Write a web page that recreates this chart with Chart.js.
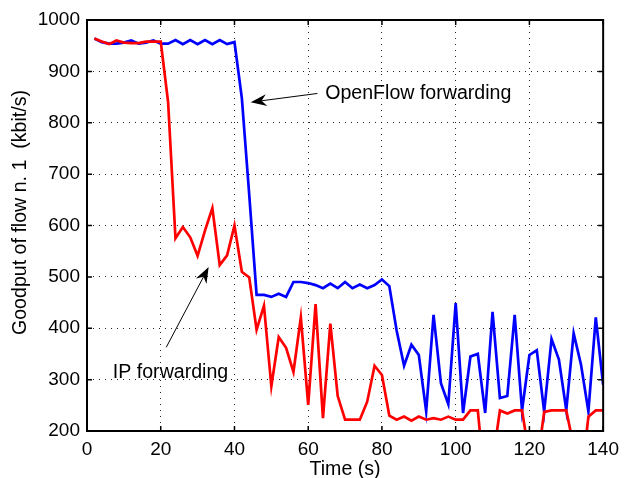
<!DOCTYPE html>
<html>
<head>
<meta charset="utf-8">
<script src="https://cdn.jsdelivr.net/npm/chart.js@4/dist/chart.umd.min.js"></script>
<style>
html,body{margin:0;padding:0;background:#fff;}
#wrap{width:626px;height:478px;position:relative;}
</style>
</head>
<body>
<div id="wrap"><canvas id="c"></canvas></div>
<script>
const times = [2,4,6,8,10,12,14,16,18,20,22,24,26,28,30,32,34,36,38,40,
  42,44,46,48,50,52,54,56,58,60,62,64,66,68,70,72,74,76,78,80,
  82,84,86,88,90,92,94,96,98,100,102,104,106,108,110,112,114,116,118,120,
  122,124,126,128,130,132,134,136,138,140];

const openflowGoodput = [964,957,954,954,956,960,954,956,960,954,954,961,953,961,953,961,953,961,953,957,
  848,660,465,465,461,467,461,490,490,488,484,478,487,478,490,478,485,478,484,495,
  482,395,327,368,348,238,426,293,252,449,235,345,350,235,432,264,268,426,240,348,
  357,238,379,339,241,390,329,238,421,290];

const ipGoodput = [964,958,953,960,956,955,955,958,958,958,840,575,597,577,541,590,634,523,542,600,
  510,499,397,444,287,383,362,315,421,251,447,225,409,268,222,222,222,257,327,309,
  230,222,228,220,228,222,225,222,228,222,222,240,240,90,140,240,234,240,240,150,
  130,237,240,240,240,170,100,228,240,240];

const xTicks = [0,20,40,60,80,100,120,140];
const yTicks = [200,300,400,500,600,700,800,900,1000];

const xTitle = "Time (s)";
const yTitle = "Goodput of flow n. 1  (kbit/s)";
const labelOpenFlow = "OpenFlow forwarding";
const labelIP = "IP forwarding";
// annotation anchors in data coordinates [time, goodput]
const ofText = [64.6, 847];
const ofArrow = [[62.5, 857], [44.4, 840]];
const ipText = [7.0, 304];
const ipArrow = [[21.5, 363], [33.0, 519]];

const FONT = "'Liberation Sans', Arial, Helvetica, sans-serif";

function drawArrow(ctx, x1, y1, x2, y2) {
  const ang = Math.atan2(y2 - y1, x2 - x1);
  const L = 16, W = 6, N = 11;
  ctx.save();
  ctx.strokeStyle = '#000';
  ctx.fillStyle = '#000';
  ctx.lineWidth = 1;
  ctx.beginPath();
  ctx.moveTo(x1, y1);
  ctx.lineTo(x2 - Math.cos(ang) * N, y2 - Math.sin(ang) * N);
  ctx.stroke();
  const c = Math.cos(ang), s = Math.sin(ang);
  const px = (d, w) => [x2 - c * d - s * w, y2 - s * d + c * w];
  ctx.beginPath();
  ctx.moveTo(x2, y2);
  let p = px(L, W); ctx.lineTo(p[0], p[1]);
  p = px(N, 0); ctx.lineTo(p[0], p[1]);
  p = px(L, -W); ctx.lineTo(p[0], p[1]);
  ctx.closePath();
  ctx.fill();
  ctx.restore();
}

const framePlugin = {
  id: 'frame',
  afterDraw(chart) {
    const {ctx, chartArea: a, scales: {x, y}} = chart;
    ctx.save();
    ctx.strokeStyle = '#000';
    ctx.lineWidth = 2;
    ctx.strokeRect(a.left, a.top, a.right - a.left, a.bottom - a.top);
    ctx.lineWidth = 1.5;
    const tl = 5;
    ctx.beginPath();
    xTicks.forEach(v => {
      const px = x.getPixelForValue(v);
      ctx.moveTo(px, a.bottom); ctx.lineTo(px, a.bottom - tl);
      ctx.moveTo(px, a.top); ctx.lineTo(px, a.top + tl);
    });
    yTicks.forEach(v => {
      const py = y.getPixelForValue(v);
      ctx.moveTo(a.left, py); ctx.lineTo(a.left + tl, py);
      ctx.moveTo(a.right, py); ctx.lineTo(a.right - tl, py);
    });
    ctx.stroke();

    ctx.fillStyle = '#000';
    ctx.font = '19.6px ' + FONT;

    // y axis title
    ctx.save();
    ctx.translate(21, (a.top + a.bottom) / 2 - 13);
    ctx.rotate(-Math.PI / 2);
    ctx.textAlign = 'center';
    ctx.textBaseline = 'middle';
    ctx.fillText(yTitle, 0, 0);
    ctx.restore();

    // annotations
    ctx.textAlign = 'left';
    ctx.textBaseline = 'alphabetic';
    ctx.fillText(labelOpenFlow, x.getPixelForValue(ofText[0]), y.getPixelForValue(ofText[1]));
    ctx.fillText(labelIP, x.getPixelForValue(ipText[0]), y.getPixelForValue(ipText[1]));
    drawArrow(ctx, x.getPixelForValue(ofArrow[0][0]), y.getPixelForValue(ofArrow[0][1]),
                   x.getPixelForValue(ofArrow[1][0]), y.getPixelForValue(ofArrow[1][1]));
    drawArrow(ctx, x.getPixelForValue(ipArrow[0][0]), y.getPixelForValue(ipArrow[0][1]),
                   x.getPixelForValue(ipArrow[1][0]), y.getPixelForValue(ipArrow[1][1]));
    ctx.restore();
  }
};

const toPts = arr => times.map((t, i) => ({x: t, y: arr[i]}));

new Chart(document.getElementById('c'), {
  type: 'line',
  data: {
    datasets: [
      {label: labelIP, data: toPts(ipGoodput), borderColor: '#ff0000', borderWidth: 2.7,
       pointRadius: 0, tension: 0, fill: false},
      {label: labelOpenFlow, data: toPts(openflowGoodput), borderColor: '#0000ff', borderWidth: 2.7,
       pointRadius: 0, tension: 0, fill: false}
    ]
  },
  options: {
    responsive: true,
    maintainAspectRatio: false,
    animation: false,
    layout: {padding: {left: 0, right: 18, top: 20, bottom: 0}},
    plugins: {legend: {display: false}, tooltip: {enabled: false}, title: {display: false}},
    scales: {
      x: {
        type: 'linear', min: 0, max: 140,
        afterBuildTicks: s => { s.ticks = xTicks.map(v => ({value: v})); },
        afterFit: s => { s.height = 47; },
        grid: {display: true, drawTicks: false, color: 'rgba(0,0,0,0.85)', lineWidth: 1},
        border: {display: false, dash: [1, 5]},
        ticks: {color: '#000', font: {family: FONT, size: 19}, padding: 7, maxRotation: 0, autoSkip: false,
                callback: v => String(v)},
        title: {display: true, text: xTitle, color: '#000', font: {family: FONT, size: 19.6, lineHeight: 1},
                padding: {top: 0, bottom: -1.5}}
      },
      y: {
        type: 'linear', min: 200, max: 1000,
        afterBuildTicks: s => { s.ticks = yTicks.map(v => ({value: v})); },
        afterFit: s => { s.width = 87; },
        grid: {display: true, drawTicks: false, color: 'rgba(0,0,0,0.85)', lineWidth: 1},
        border: {display: false, dash: [1, 5]},
        ticks: {color: '#000', font: {family: FONT, size: 19}, padding: 7, autoSkip: false,
                callback: v => String(v)},
        title: {display: false}
      }
    }
  },
  plugins: [framePlugin]
});
</script>
</body>
</html>
